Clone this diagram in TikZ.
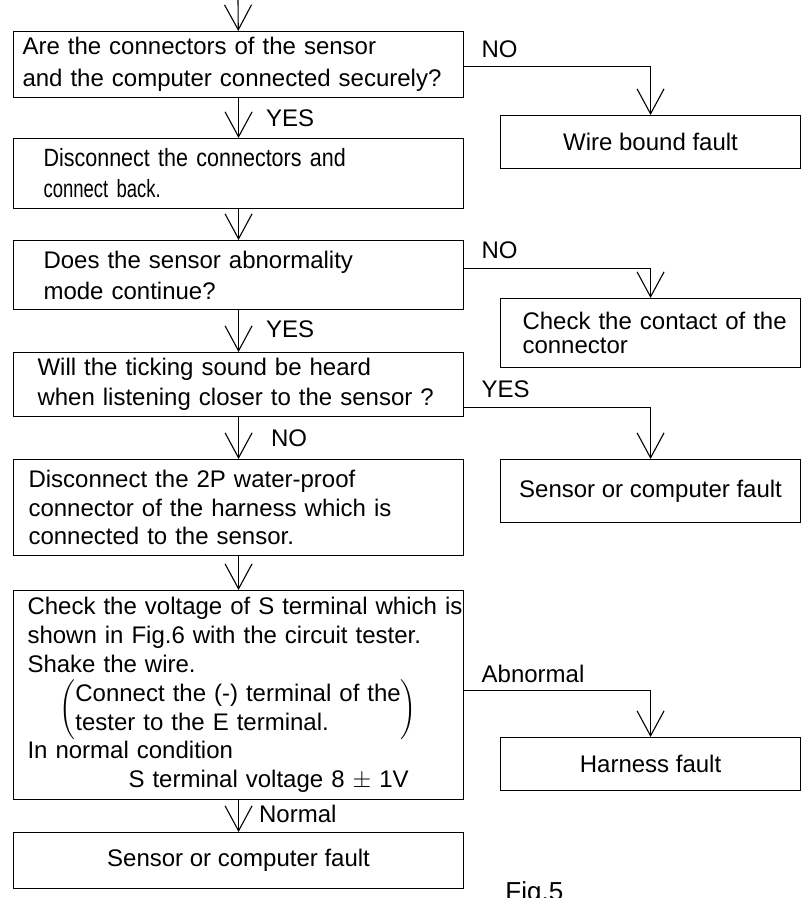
\documentclass[tikz,border=0pt]{standalone}
\usepackage{fontspec}
\setmainfont{Liberation Sans}
\newfontfamily\condA[FakeStretch=0.86]{Liberation Sans}
\newfontfamily\condB[FakeStretch=0.74]{Liberation Sans}
\usetikzlibrary{arrows.meta}
\tikzset{
  box/.style={draw, line width=0.55pt, anchor=north west, inner ysep=0pt, align=left},
  endbox/.style={draw, line width=0.55pt, anchor=north west, inner sep=0pt, minimum width=150pt, align=center, font=\fontsize{12}{14}\selectfont},
  flow/.style={draw, line width=0.55pt, -{Straight Barb[length=12.5pt, width=13.5pt]}},
  lbl/.style={inner sep=0pt, font=\fontsize{12}{14}\selectfont},
}

\begin{document}
\begin{tikzpicture}[x=0.5pt, y=-0.5pt]
  \useasboundingbox (0,0) rectangle (810,898);
  \coordinate (start) at (238,0);

  \node (q1) [box, inner xsep=4.5pt, text width=216pt, minimum height=33pt,
    font=\fontsize{12}{16}\selectfont] at (13,31)
    {Are the connectors of the sensor\\and the computer connected securely?};
  \node (q2) [box, inner xsep=15pt, text width=195pt, minimum height=35pt,
    font=\fontsize{12.5}{15.5}\selectfont] at (13,138)
    {{\condA Disconnect the connectors and}\\{\condB connect back.}};
  \node (q3) [box, inner xsep=15pt, text width=195pt, minimum height=34.5pt,
    font=\fontsize{12}{15.5}\selectfont] at (13,240)
    {Does the sensor abnormality\\mode continue?};
  \node (q4) [box, inner xsep=12pt, text width=201pt, minimum height=32pt,
    font=\fontsize{12}{15}\selectfont] at (13,352)
    {Will the ticking sound be heard\\when listening closer to the sensor ?};
  \node (q5) [box, inner xsep=7.5pt, text width=210pt, minimum height=48pt,
    font=\fontsize{12}{14.25}\selectfont] at (13,459)
    {Disconnect the 2P water-proof\\connector of the harness which is\\connected to the sensor.};
  \node (q6) [box, inner xsep=7pt, text width=211pt, minimum height=104.5pt,
    font=\fontsize{12}{14.4}\selectfont] at (13,590)
    {\mbox{Check the voltage of S terminal which is}\\
     shown in Fig.6 with the circuit tester.\\
     Shake the wire.\\
     \hspace*{16pt}\raisebox{-7.3pt}[0pt][0pt]{$\left(\begin{tabular}{@{}l@{}}Connect the (-) terminal of the\\tester to the E terminal.\end{tabular}\right)$}\\
     \mbox{}\\
     In normal condition\\
     \hspace*{50.5pt}S terminal voltage 8 $\pm$ 1V};
  \node (q7) [endbox, minimum width=225pt, minimum height=28pt] at (13,832)
    {Sensor or computer fault};

  \node (r1) [endbox, minimum height=26.5pt] at (500,115) {Wire bound fault};
  \node (r2) [box, inner xsep=11pt, text width=128pt, minimum height=34.5pt,
    font=\fontsize{12}{12}\selectfont] at (500,298)
    {\mbox{Check the contact of the}\\connector};
  \node (r3) [endbox, minimum height=31.5pt] at (500,459) {Sensor or computer fault};
  \node (r4) [endbox, minimum height=26.5pt] at (500,737) {Harness fault};

  \node (fig) [inner sep=0pt, anchor=base west, font=\fontsize{13}{15}\selectfont] at (505,900) {Fig.5};

  \draw[flow] (start) -- (q1);
  \draw[flow] (q1) -- node[lbl, anchor=west, xshift=13.5pt] {YES} (q2);
  \draw[flow] (q2) -- (q3);
  \draw[flow] (q3) -- node[lbl, anchor=west, xshift=13.5pt, yshift=1pt] {YES} (q4);
  \draw[flow] (q4) -- node[lbl, anchor=west, xshift=16pt] {NO} (q5);
  \draw[flow] (q5) -- (q6);
  \draw[flow] (q6) -- node[lbl, anchor=west, xshift=10pt, yshift=1pt] {Normal} (q7);

  \draw[flow] ([yshift=-1pt]q1.east) -| node[lbl, at start, anchor=south west, xshift=8.5pt, yshift=4pt] {NO} (r1.north);
  \draw[flow] ([yshift=3.25pt]q3.east) -| node[lbl, at start, anchor=south west, xshift=8.5pt, yshift=4.5pt] {NO} (r2.north);
  \draw[flow] ([yshift=-11.5pt]q4.east) -| node[lbl, at start, anchor=south west, xshift=8.5pt, yshift=4.5pt] {YES} (r3.north);
  \draw[flow] ([yshift=2.25pt]q6.east) -| node[lbl, at start, anchor=south west, xshift=8.5pt, yshift=3.5pt] {Abnormal} (r4.north);
\end{tikzpicture}
\end{document}
